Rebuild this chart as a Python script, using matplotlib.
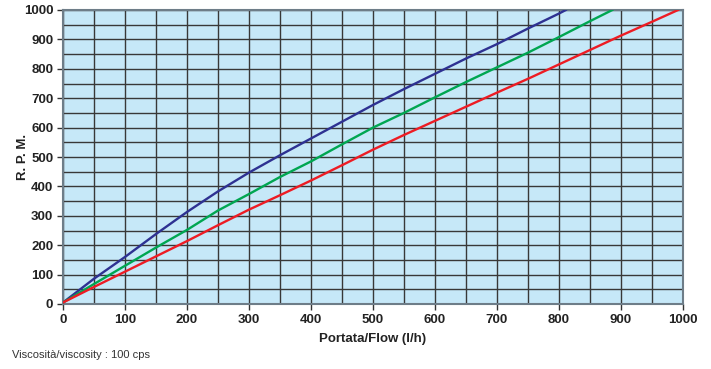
import matplotlib
matplotlib.use("Agg")
import matplotlib.pyplot as plt
from matplotlib.ticker import MultipleLocator

plt.rcParams['font.family'] = ['Liberation Sans', 'DejaVu Sans']

blue_x = [0, 50, 100, 150, 200, 250, 300, 350, 400, 450, 500, 550, 600, 650, 700, 750, 800, 811]
blue_y = [5, 86, 160, 238, 313, 383, 447, 506, 563, 620, 677, 731, 783, 835, 884, 937, 988, 1000]

green_x = [0, 50, 100, 150, 200, 250, 300, 350, 400, 450, 500, 550, 600, 650, 700, 750, 800, 850, 886]
green_y = [5, 68, 130, 192, 252, 318, 374, 432, 485, 543, 600, 650, 703, 755, 805, 855, 908, 962, 1000]

red_x = [0, 50, 100, 150, 200, 250, 300, 350, 400, 450, 500, 550, 600, 650, 700, 750, 800, 850, 900, 950, 992]
red_y = [5, 58, 110, 162, 214, 268, 321, 370, 420, 472, 525, 575, 623, 671, 719, 766, 815, 864, 913, 960, 1000]

x_label = "Portata/Flow (l/h)"
y_label = "R. P. M."
note = "Viscosità/viscosity : 100 cps"

fig = plt.figure(figsize=(7.11, 3.69), dpi=100)
ax = fig.add_axes([63/711, 1-304/369, 620/711, 294/369])
ax.set_facecolor('#c6e8f8')
ax.set_xlim(0, 1000)
ax.set_ylim(0, 1000)

ax.xaxis.set_major_locator(MultipleLocator(100))
ax.yaxis.set_major_locator(MultipleLocator(100))
ax.xaxis.set_minor_locator(MultipleLocator(50))
ax.yaxis.set_minor_locator(MultipleLocator(50))
ax.grid(which='both', color='#383838', linewidth=1.0)
ax.set_axisbelow(True)

ax.plot(blue_x, blue_y, color='#2e3192', linewidth=1.7, zorder=3)
ax.plot(green_x, green_y, color='#00a651', linewidth=1.7, zorder=3)
ax.plot(red_x, red_y, color='#ed1c24', linewidth=1.7, zorder=3)

for s in ax.spines.values():
    s.set_color('#6e7d88')
    s.set_linewidth(1.5)

ax.tick_params(which='major', direction='out', length=4, width=1, color='#333333',
               labelsize=9.5, pad=3)
ax.tick_params(which='minor', length=0)
for lab in ax.get_xticklabels() + ax.get_yticklabels():
    lab.set_fontweight('bold')
    lab.set_color('#222222')

ax.set_xlabel(x_label, fontsize=9.5, fontweight='bold', color='#222222', labelpad=5)
ax.set_ylabel(y_label, fontsize=9.5, fontweight='bold', color='#222222')
ax.yaxis.set_label_coords((29 - 63) / 620, 0.5)

fig.text(12/711, 1-355/369, note, fontsize=8, color='#333333', va='center', ha='left')

fig.savefig('out.png', dpi=100)
